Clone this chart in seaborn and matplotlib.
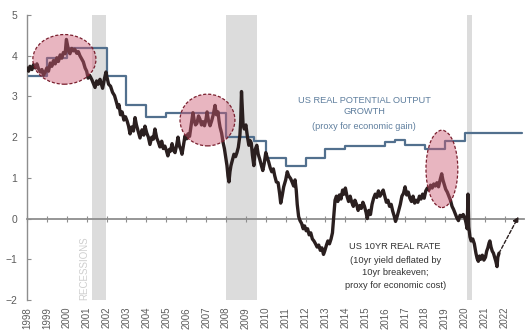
import matplotlib
matplotlib.use("Agg")
import matplotlib.pyplot as plt
from matplotlib.patches import Ellipse
import numpy as np
import pandas as pd
import seaborn as sns

# US 10yr real rate (10yr yield less 10yr breakeven), %
real_rate_year = [
    1998.00, 1998.08, 1998.15, 1998.25, 1998.33, 1998.42, 1998.50, 1998.58, 1998.67, 1998.75,
    1998.83, 1998.90, 1999.00, 1999.08, 1999.17, 1999.25, 1999.33, 1999.42, 1999.50, 1999.58,
    1999.67, 1999.75, 1999.83, 1999.92, 1999.98, 2000.04, 2000.10, 2000.16, 2000.25, 2000.33,
    2000.40, 2000.50, 2000.58, 2000.66, 2000.75, 2000.83, 2000.92, 2001.00, 2001.07, 2001.15,
    2001.27, 2001.35, 2001.42, 2001.50, 2001.58, 2001.67, 2001.75, 2001.80, 2001.90, 2001.97,
    2002.03, 2002.10, 2002.20, 2002.30, 2002.40, 2002.50, 2002.57, 2002.62, 2002.70, 2002.78,
    2002.87, 2002.95, 2003.03, 2003.10, 2003.18, 2003.26, 2003.35, 2003.43, 2003.50, 2003.60,
    2003.68, 2003.78, 2003.87, 2003.93, 2004.02, 2004.10, 2004.18, 2004.27, 2004.35, 2004.43,
    2004.52, 2004.60, 2004.68, 2004.77, 2004.85, 2004.93, 2005.00, 2005.08, 2005.16, 2005.22,
    2005.29, 2005.36, 2005.44, 2005.52, 2005.59, 2005.66, 2005.73, 2005.79, 2005.87, 2005.94,
    2006.02, 2006.09, 2006.17, 2006.25, 2006.34, 2006.40, 2006.47, 2006.54, 2006.62, 2006.69,
    2006.77, 2006.84, 2006.92, 2007.00, 2007.05, 2007.12, 2007.20, 2007.28, 2007.36, 2007.45,
    2007.52, 2007.60, 2007.65, 2007.70, 2007.78, 2007.85, 2007.92, 2008.00, 2008.05, 2008.10,
    2008.15, 2008.20, 2008.25, 2008.33, 2008.40, 2008.48, 2008.55, 2008.62, 2008.70, 2008.74,
    2008.78, 2008.82, 2008.86, 2008.92, 2009.00, 2009.08, 2009.15, 2009.20, 2009.27, 2009.33,
    2009.40, 2009.47, 2009.55, 2009.62, 2009.70, 2009.78, 2009.85, 2009.92, 2010.00, 2010.07,
    2010.14, 2010.22, 2010.30, 2010.38, 2010.45, 2010.53, 2010.62, 2010.70, 2010.75, 2010.82,
    2010.90, 2011.00, 2011.08, 2011.15, 2011.25, 2011.32, 2011.40, 2011.47, 2011.53, 2011.58,
    2011.65, 2011.72, 2011.80, 2011.88, 2011.95, 2012.03, 2012.10, 2012.18, 2012.26, 2012.34,
    2012.42, 2012.50, 2012.58, 2012.66, 2012.74, 2012.82, 2012.90, 2012.96, 2013.05, 2013.12,
    2013.20, 2013.28, 2013.35, 2013.42, 2013.48, 2013.55, 2013.62, 2013.70, 2013.78, 2013.86,
    2013.93, 2014.00, 2014.08, 2014.16, 2014.24, 2014.32, 2014.40, 2014.48, 2014.56, 2014.64,
    2014.72, 2014.80, 2014.88, 2014.96, 2015.04, 2015.10, 2015.18, 2015.26, 2015.34, 2015.42,
    2015.50, 2015.58, 2015.66, 2015.74, 2015.82, 2015.90, 2015.98, 2016.06, 2016.14, 2016.22,
    2016.30, 2016.38, 2016.46, 2016.52, 2016.60, 2016.68, 2016.76, 2016.84, 2016.92, 2017.00,
    2017.08, 2017.16, 2017.24, 2017.32, 2017.40, 2017.48, 2017.56, 2017.64, 2017.72, 2017.80,
    2017.88, 2017.96, 2018.04, 2018.12, 2018.20, 2018.28, 2018.36, 2018.44, 2018.52, 2018.60,
    2018.68, 2018.76, 2018.84, 2018.90, 2018.96, 2019.04, 2019.12, 2019.20, 2019.28, 2019.36,
    2019.44, 2019.52, 2019.60, 2019.68, 2019.76, 2019.84, 2019.92, 2020.00, 2020.06, 2020.12,
    2020.16, 2020.20, 2020.26, 2020.32, 2020.40, 2020.48, 2020.56, 2020.62, 2020.68, 2020.74,
    2020.80, 2020.88, 2020.96, 2021.04, 2021.10, 2021.16, 2021.22, 2021.26, 2021.32, 2021.38,
    2021.44, 2021.50, 2021.56, 2021.62, 2021.66, 2021.72,
]
real_rate = [
    3.70, 3.62, 3.74, 3.66, 3.78, 3.70, 3.80, 3.68, 3.60, 3.66,
    3.52, 3.58, 3.70, 3.62, 3.82, 3.74, 3.88, 3.80, 3.95, 3.86,
    4.02, 3.94, 4.08, 4.05, 4.40, 4.25, 4.10, 4.05, 4.18, 4.12,
    4.16, 4.06, 4.10, 4.00, 3.92, 3.85, 3.70, 3.62, 3.45, 3.52,
    3.40, 3.30, 3.22, 3.38, 3.30, 3.42, 3.28, 3.20, 3.45, 3.60,
    3.45, 3.30, 3.25, 3.10, 3.02, 2.85, 2.72, 2.80, 2.55, 2.62,
    2.42, 2.50, 2.40, 2.28, 2.08, 2.25, 2.15, 2.48, 2.30, 2.12,
    1.98, 2.18, 2.05, 2.27, 2.10, 2.00, 1.82, 2.00, 1.95, 2.20,
    1.98, 1.88, 1.76, 1.90, 1.72, 1.78, 1.68, 1.54, 1.70, 1.66,
    1.84, 1.68, 1.62, 1.80, 2.00, 1.78, 1.70, 1.58, 1.82, 2.03,
    1.96, 2.08, 2.02, 2.30, 2.60, 2.42, 2.30, 2.34, 2.52, 2.44,
    2.30, 2.38, 2.28, 2.45, 2.62, 2.40, 2.28, 2.40, 2.55, 2.78,
    2.55, 2.62, 2.40, 2.25, 2.10, 1.88, 1.72, 1.45, 1.30, 1.05,
    0.90, 1.15, 1.30, 1.45, 1.58, 1.52, 1.62, 1.75, 2.05, 2.40,
    3.12, 2.70, 2.30, 2.20, 2.30, 2.00, 1.80, 1.92, 1.86, 1.55,
    1.30, 1.70, 1.80, 1.58, 1.45, 1.30, 1.18, 1.35, 1.62, 1.50,
    1.40, 1.25, 1.15, 1.22, 1.05, 0.90, 0.88, 0.60, 0.38, 0.55,
    0.78, 0.95, 1.15, 1.05, 0.98, 0.90, 0.80, 0.95, 0.70, 0.35,
    0.05, -0.05, -0.12, -0.25, -0.18, -0.30, -0.25, -0.40, -0.35, -0.50,
    -0.55, -0.62, -0.70, -0.65, -0.78, -0.72, -0.88, -0.80, -0.65, -0.55,
    -0.62, -0.50, -0.35, 0.10, 0.45, 0.55, 0.42, 0.58, 0.48, 0.70,
    0.60, 0.75, 0.55, 0.42, 0.55, 0.40, 0.30, 0.45, 0.35, 0.20,
    0.32, 0.25, 0.40, 0.30, 0.15, 0.00, 0.20, 0.10, 0.35, 0.50,
    0.60, 0.52, 0.68, 0.55, 0.62, 0.70, 0.55, 0.40, 0.45, 0.30,
    0.35, 0.18, 0.05, -0.07, 0.05, 0.20, 0.35, 0.55, 0.62, 0.78,
    0.58, 0.65, 0.50, 0.42, 0.55, 0.38, 0.45, 0.40, 0.55, 0.48,
    0.60, 0.50, 0.68, 0.75, 0.70, 0.82, 0.75, 0.85, 0.80, 0.88,
    0.78, 0.95, 1.10, 0.95, 0.85, 0.72, 0.65, 0.55, 0.45, 0.30,
    0.22, 0.12, 0.02, -0.05, 0.08, 0.05, 0.10, 0.02, -0.10, -0.25,
    0.60, -0.20, -0.45, -0.55, -0.50, -0.62, -0.85, -0.98, -1.05, -0.92,
    -1.00, -0.90, -1.02, -0.95, -0.80, -0.72, -0.60, -0.55, -0.70, -0.80,
    -0.85, -0.95, -1.05, -1.18, -0.95, -0.85,
]

# US real potential output growth, % (step changes at the listed years)
potential_year = [1998, 1999, 2000, 2002, 2003, 2004, 2005, 2008, 2009.4, 2010, 2011,
                  2012, 2013, 2014, 2016, 2016.5, 2017, 2018, 2019, 2020, 2022.9]
potential_growth = [3.5, 3.95, 4.2, 3.5, 2.8, 2.5, 2.6, 2.0, 1.9, 1.5, 1.3,
                    1.5, 1.7, 1.78, 1.88, 1.92, 1.8, 1.7, 1.9, 2.1, 2.1]

# NBER recessions (start, end)
recessions = [(2001.27, 2001.97), (2008.0, 2009.55), (2020.1, 2020.35)]

# highlighted episodes: (centre year, centre value, width in years, height in %)
highlights = [(1999.88, 3.91, 3.17, 1.22), (2007.07, 2.42, 2.76, 1.27), (2018.85, 1.22, 1.6, 1.9)]

# dashed outlook arrow end point
outlook_end = (2022.7, 0.05)

year_ticks = list(range(1998, 2023))
value_ticks = list(range(-2, 6))

sns.set_theme(style="white")
plt.rcParams["font.family"] = ["Liberation Sans Narrow", "Liberation Sans", "DejaVu Sans"]

axis_grey = "#8e8e8e"
label_grey = "#5c5c5c"
rate_col = "#2a1f1f"
potential_col = "#52708e"
potential_text = "#5f7f9e"

fig = plt.figure(figsize=(5.3, 3.32), dpi=100)
ax = fig.add_axes([0.0509, 0.0964, 0.9387, 0.8584])

for start, end in recessions:
    ax.axvspan(start, end, color="#dcdcdc", lw=0, zorder=0)

rate_df = pd.DataFrame({"year": real_rate_year, "rate": real_rate})
pot_df = pd.DataFrame({"year": potential_year, "growth": potential_growth})

sns.lineplot(data=pot_df, x="year", y="growth", ax=ax, color=potential_col,
             lw=1.6, drawstyle="steps-post", zorder=2)
sns.lineplot(data=rate_df, x="year", y="rate", ax=ax, color=rate_col,
             lw=2.4, zorder=3)

for cx, cy, w, h in highlights:
    ax.add_patch(Ellipse((cx, cy), w, h, facecolor=(0.80, 0.36, 0.46, 0.45),
                         edgecolor="#7a1f2e", lw=0.9, ls=(0, (2.5, 1.5)), zorder=4))

ax.annotate("", xy=outlook_end, xytext=(real_rate_year[-1], real_rate[-1]),
            arrowprops=dict(arrowstyle="-|>", color=rate_col, lw=1.0,
                            ls=(0, (2.5, 1.5)), mutation_scale=8,
                            shrinkA=0, shrinkB=0), zorder=5)

ax.set_xlim(1998, 2023)
ax.set_ylim(-2, 5)
ax.set_xlabel("")
ax.set_ylabel("")

# horizontal axis drawn along zero, year labels along the bottom
for side in ("top", "right"):
    ax.spines[side].set_visible(False)
ax.spines["bottom"].set_position(("data", 0))
ax.spines["bottom"].set_color(axis_grey)
ax.spines["bottom"].set_linewidth(1.3)
ax.spines["left"].set_color(axis_grey)
ax.spines["left"].set_linewidth(1.0)
ax.set_xticks(year_ticks)
ax.tick_params(axis="x", direction="inout", length=4, width=0.8, color=axis_grey,
               labelbottom=False, bottom=True)
ax.set_yticks(value_ticks)
ax.tick_params(axis="y", direction="in", length=3, width=0.8, color=axis_grey,
               left=True, pad=7, labelsize=7.5, labelcolor=label_grey)

sec = ax.secondary_xaxis("bottom")
sec.set_xticks(year_ticks)
sec.set_xticklabels([str(y) for y in year_ticks], rotation=90)
sec.tick_params(length=0, pad=5, labelsize=7, labelcolor=label_grey)
sec.spines["bottom"].set_visible(False)

ax.text(2000.9, -1.22, "RECESSIONS", rotation=90, ha="center", va="center",
        fontsize=7, color="#cfcfcf", zorder=1)

ax.text(2014.95, 2.89, "US REAL POTENTIAL OUTPUT", ha="center", va="center",
        fontsize=6.7, color=potential_text)
ax.text(2014.95, 2.62, "GROWTH", ha="center", va="center",
        fontsize=6.7, color=potential_text)
ax.text(2014.95, 2.25, "(proxy for economic gain)", ha="center", va="center",
        fontsize=6.6, color=potential_text)

rate_lines = ["US 10YR REAL RATE", "(10yr yield deflated by", "10yr breakeven;",
              "proxy for economic cost)"]
for txt, yv in zip(rate_lines, [-0.68, -1.03, -1.33, -1.64]):
    ax.text(2016.5, yv, txt, ha="center", va="center", fontsize=6.7, color="#333333")

fig.savefig("out.png", dpi=100)
